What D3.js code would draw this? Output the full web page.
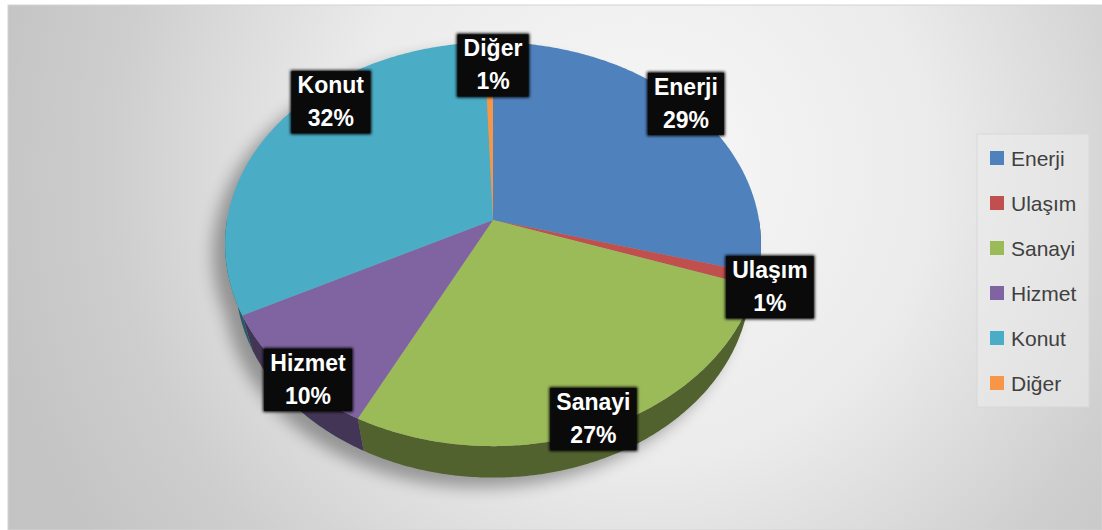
<!DOCTYPE html>
<html>
<head>
<meta charset="utf-8">
<script src="https://cdn.jsdelivr.net/npm/d3@7"></script>
<style>
  html, body { margin: 0; padding: 0; background: #ffffff; }
  svg { display: block; font-family: "Liberation Sans", Arial, sans-serif; }
</style>
</head>
<body>
<svg id="chart" width="1102" height="530"></svg>
<script>
// data
const categories = ["Enerji", "Ulaşım", "Sanayi", "Hizmet", "Konut", "Diğer"];
const shares = [29.2, 1.0, 27.3, 10.0, 31.9, 0.6];
const colors = ["#4f81bd", "#c0504d", "#9bbb59", "#8064a2", "#4bacc6", "#f79646"];

// label placement (factors on the projected radius, Excel "best fit" look)
const labelFx = [0.98, 1.05, 0.89, 0.90, 0.75, 0.0];
const labelFy = [1.03, 1.12, 0.96, 1.04, 1.24, 0.87];

const width = 1102, height = 530;
// simple perspective camera for the tilted pie
const X0 = 493, Y0 = 220;   // screen position of the pie centre
const A = 266, B = 199;     // horizontal / vertical radius
const C = 38;               // wall height
const K = 0.12, M = 0.04;   // perspective strength (front / depth)

const svg = d3.select("#chart");
const defs = svg.append("defs");

// background gradient
const bg = defs.append("radialGradient")
  .attr("id", "bgGrad")
  .attr("gradientUnits", "userSpaceOnUse")
  .attr("cx", 640).attr("cy", 170).attr("r", 660);
[[0, "#f8f8f8"], [0.45, "#ebebeb"], [0.66, "#dadada"], [0.8, "#cecece"], [1, "#c4c4c4"]]
  .forEach(([o, c]) => bg.append("stop").attr("offset", o).attr("stop-color", c));

const blur = defs.append("filter").attr("id", "shadowBlur")
  .attr("x", "-20%").attr("y", "-20%").attr("width", "140%").attr("height", "140%");
blur.append("feGaussianBlur").attr("stdDeviation", 8);

const glow = defs.append("filter").attr("id", "boxGlow")
  .attr("x", "-20%").attr("y", "-20%").attr("width", "140%").attr("height", "140%");
glow.append("feGaussianBlur").attr("stdDeviation", 1.5);

svg.append("rect")
  .attr("x", 8).attr("y", 5)
  .attr("width", width - 8).attr("height", height - 5)
  .attr("fill", "url(#bgGrad)")
  .attr("stroke", "#d4d4d4")
  .attr("stroke-width", 1);

// project a point of the unit circle (angle a, clockwise from top) at level z (0 top, -1 bottom)
function project(a, z, fx = 1, fy = 1) {
  const u = Math.sin(a), v = -Math.cos(a);
  const w = 1 - K * v - M * z;
  return [X0 + A * fx * u / w, Y0 + (B * fy * v - C * z) / w];
}

function rim(a0, a1, z) {
  const n = Math.max(2, Math.ceil(Math.abs(a1 - a0) / 0.01));
  return d3.range(n + 1).map(i => project(a0 + (a1 - a0) * i / n, z));
}

const line = d3.line();

const pie = d3.pie().sort(null).value(d => d)
  .startAngle(0).endAngle(2 * Math.PI);
const arcs = pie(shares);

function topPath(d) {
  return line([[X0, Y0]].concat(rim(d.startAngle, d.endAngle, 0))) + "Z";
}

function wallPoints(a0, a1) {
  return rim(a0, a1, 0).concat(rim(a1, a0, -1));
}

function sidePath(d) {
  // only the front half of the rim faces the viewer
  const a = Math.max(d.startAngle, Math.PI / 2);
  const b = Math.min(d.endAngle, 3 * Math.PI / 2);
  if (b <= a) return null;
  return line(wallPoints(a, b)) + "Z";
}

// soft shadow of the pie
const shadow = svg.append("g")
  .attr("filter", "url(#shadowBlur)")
  .attr("transform", "translate(-12,10)")
  .attr("opacity", 0.33);
shadow.append("path")
  .attr("d", line(rim(0, 2 * Math.PI, 0)) + "Z")
  .attr("fill", "#000");
shadow.append("path")
  .attr("d", line(wallPoints(Math.PI / 2, 3 * Math.PI / 2)) + "Z")
  .attr("fill", "#000");

const pieG = svg.append("g");

pieG.selectAll("path.side")
  .data(arcs.filter(d => sidePath(d) !== null))
  .enter()
  .append("path")
  .attr("class", "side")
  .attr("d", sidePath)
  .attr("fill", d => d3.color(colors[d.index]).darker(1.8));

pieG.selectAll("path.top")
  .data(arcs)
  .enter()
  .append("path")
  .attr("class", "top")
  .attr("d", topPath)
  .attr("fill", d => colors[d.index]);

// data labels
const labels = svg.append("g")
  .selectAll("g")
  .data(arcs)
  .enter()
  .append("g")
  .attr("transform", d => {
    const m = (d.startAngle + d.endAngle) / 2;
    const [x, y] = project(m, 0, labelFx[d.index], labelFy[d.index]);
    return `translate(${x},${y})`;
  });

labels.each(function (d) {
  const g = d3.select(this);
  const t = g.append("text")
    .attr("text-anchor", "middle")
    .attr("font-weight", "bold")
    .attr("font-size", 23)
    .attr("fill", "#ffffff");
  t.append("tspan").attr("x", 0).attr("y", -9).text(categories[d.index]);
  t.append("tspan").attr("x", 0).attr("y", 24).text(Math.round(d.value) + "%");
  const w = t.node().getBBox().width + 14;
  const h = 64;
  g.insert("rect", "text")
    .attr("x", -w / 2).attr("y", -32)
    .attr("width", w).attr("height", h)
    .attr("fill", "#000")
    .attr("filter", "url(#boxGlow)");
  g.insert("rect", "text")
    .attr("x", -w / 2 + 1).attr("y", -31)
    .attr("width", w - 2).attr("height", h - 2)
    .attr("fill", "#0a0a0a");
});

// legend
const legendY = d3.scalePoint().domain(categories).range([158, 383]);
const legend = svg.append("g");
legend.append("rect")
  .attr("x", 977).attr("y", 134)
  .attr("width", 112).attr("height", 273)
  .attr("fill", "#ececec")
  .attr("fill-opacity", 0.55)
  .attr("stroke", "#d8d8d8");

const items = legend.selectAll("g.item")
  .data(categories)
  .enter()
  .append("g")
  .attr("class", "item")
  .attr("transform", d => `translate(990,${legendY(d)})`);

items.append("rect")
  .attr("x", 0).attr("y", -7)
  .attr("width", 14).attr("height", 14)
  .attr("fill", (d, i) => colors[i]);

items.append("text")
  .attr("x", 21)
  .attr("dy", "0.36em")
  .attr("font-size", 21)
  .attr("fill", "#404040")
  .text(d => d);
</script>
</body>
</html>
